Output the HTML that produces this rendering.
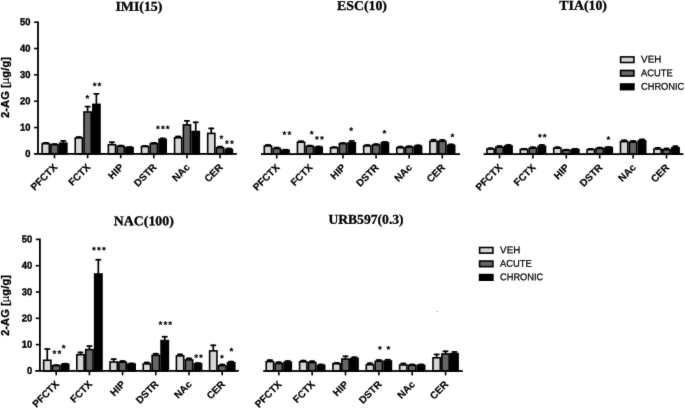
<!DOCTYPE html>
<html><head><meta charset="utf-8"><title>2-AG</title>
<style>
html,body{margin:0;padding:0;background:#fff;}
svg{display:block}
.ti{font-family:"Liberation Serif",serif;font-weight:bold;font-size:13.5px;fill:#000;stroke:#000;stroke-width:.3px}
.yt{font-family:"Liberation Sans",sans-serif;font-weight:bold;font-size:10.2px;fill:#000;stroke:#000;stroke-width:.4px}
.xl{font-family:"Liberation Sans",sans-serif;font-weight:bold;font-size:10px;fill:#000;stroke:#000;stroke-width:.2px}
.yl{font-family:"Liberation Sans",sans-serif;font-weight:bold;font-size:11.3px;fill:#000;stroke:#000;stroke-width:.3px}
.lg{font-family:"Liberation Sans",sans-serif;font-size:9.8px;fill:#000;stroke:#000;stroke-width:.25px}
.st{font-family:"Liberation Sans",sans-serif;font-weight:bold;font-size:9.9px;fill:#000;stroke:#000;stroke-width:.12px;letter-spacing:1.05px}
</style></head><body>
<svg width="685" height="408" viewBox="0 0 685 408">
<defs><filter id="sf" x="0" y="0" width="685" height="408" filterUnits="userSpaceOnUse" color-interpolation-filters="sRGB"><feConvolveMatrix order="3" kernelMatrix="1 4 1 4 46 4 1 4 1" divisor="66" edgeMode="duplicate" preserveAlpha="false"/></filter></defs>
<g filter="url(#sf)">
<rect width="685" height="408" fill="#fff"/>
<rect x="44.87" y="142.00" width="1.7" height="1.40" fill="#000"/>
<rect x="42.82" y="142.00" width="5.8" height="1.7" fill="#000"/>
<rect x="42.13" y="143.70" width="7.18" height="10.20" fill="#d6d6d6" stroke="#000" stroke-width="1.6"/>
<rect x="53.65" y="143.20" width="1.7" height="1.20" fill="#000"/>
<rect x="51.60" y="143.20" width="5.8" height="1.7" fill="#000"/>
<rect x="50.91" y="144.70" width="7.18" height="9.20" fill="#666666" stroke="#000" stroke-width="1.6"/>
<rect x="62.43" y="140.10" width="1.7" height="2.80" fill="#000"/>
<rect x="60.38" y="140.10" width="5.8" height="1.7" fill="#000"/>
<rect x="59.69" y="143.20" width="7.18" height="10.70" fill="#000000" stroke="#000" stroke-width="1.6"/>
<rect x="77.98" y="136.20" width="1.7" height="1.50" fill="#000"/>
<rect x="75.93" y="136.20" width="5.8" height="1.7" fill="#000"/>
<rect x="75.24" y="138.00" width="7.18" height="15.90" fill="#d6d6d6" stroke="#000" stroke-width="1.6"/>
<rect x="86.76" y="105.80" width="1.7" height="5.90" fill="#000"/>
<rect x="84.71" y="105.80" width="5.8" height="1.7" fill="#000"/>
<rect x="84.02" y="112.00" width="7.18" height="41.90" fill="#666666" stroke="#000" stroke-width="1.6"/>
<rect x="95.54" y="93.00" width="1.7" height="11.10" fill="#000"/>
<rect x="93.49" y="93.00" width="5.8" height="1.7" fill="#000"/>
<rect x="92.80" y="104.40" width="7.18" height="49.50" fill="#000000" stroke="#000" stroke-width="1.6"/>
<rect x="111.09" y="141.40" width="1.7" height="3.00" fill="#000"/>
<rect x="109.04" y="141.40" width="5.8" height="1.7" fill="#000"/>
<rect x="108.35" y="144.70" width="7.18" height="9.20" fill="#d6d6d6" stroke="#000" stroke-width="1.6"/>
<rect x="119.87" y="144.80" width="1.7" height="1.20" fill="#000"/>
<rect x="117.82" y="144.80" width="5.8" height="1.7" fill="#000"/>
<rect x="117.13" y="146.30" width="7.18" height="7.60" fill="#666666" stroke="#000" stroke-width="1.6"/>
<rect x="128.65" y="146.20" width="1.7" height="1.10" fill="#000"/>
<rect x="126.60" y="146.20" width="5.8" height="1.7" fill="#000"/>
<rect x="125.91" y="147.60" width="7.18" height="6.30" fill="#000000" stroke="#000" stroke-width="1.6"/>
<rect x="144.20" y="145.10" width="1.7" height="1.20" fill="#000"/>
<rect x="142.15" y="145.10" width="5.8" height="1.7" fill="#000"/>
<rect x="141.46" y="146.60" width="7.18" height="7.30" fill="#d6d6d6" stroke="#000" stroke-width="1.6"/>
<rect x="152.98" y="142.00" width="1.7" height="1.40" fill="#000"/>
<rect x="150.93" y="142.00" width="5.8" height="1.7" fill="#000"/>
<rect x="150.24" y="143.70" width="7.18" height="10.20" fill="#666666" stroke="#000" stroke-width="1.6"/>
<rect x="161.76" y="137.60" width="1.7" height="1.50" fill="#000"/>
<rect x="159.71" y="137.60" width="5.8" height="1.7" fill="#000"/>
<rect x="159.02" y="139.40" width="7.18" height="14.50" fill="#000000" stroke="#000" stroke-width="1.6"/>
<rect x="177.31" y="135.70" width="1.7" height="1.80" fill="#000"/>
<rect x="175.26" y="135.70" width="5.8" height="1.7" fill="#000"/>
<rect x="174.57" y="137.80" width="7.18" height="16.10" fill="#d6d6d6" stroke="#000" stroke-width="1.6"/>
<rect x="186.09" y="120.00" width="1.7" height="4.60" fill="#000"/>
<rect x="184.04" y="120.00" width="5.8" height="1.7" fill="#000"/>
<rect x="183.35" y="124.90" width="7.18" height="29.00" fill="#666666" stroke="#000" stroke-width="1.6"/>
<rect x="194.87" y="121.50" width="1.7" height="9.70" fill="#000"/>
<rect x="192.82" y="121.50" width="5.8" height="1.7" fill="#000"/>
<rect x="192.13" y="131.50" width="7.18" height="22.40" fill="#000000" stroke="#000" stroke-width="1.6"/>
<rect x="210.42" y="127.60" width="1.7" height="5.50" fill="#000"/>
<rect x="208.37" y="127.60" width="5.8" height="1.7" fill="#000"/>
<rect x="207.68" y="133.40" width="7.18" height="20.50" fill="#d6d6d6" stroke="#000" stroke-width="1.6"/>
<rect x="219.20" y="145.80" width="1.7" height="1.70" fill="#000"/>
<rect x="217.15" y="145.80" width="5.8" height="1.7" fill="#000"/>
<rect x="216.46" y="147.80" width="7.18" height="6.10" fill="#666666" stroke="#000" stroke-width="1.6"/>
<rect x="227.98" y="147.70" width="1.7" height="1.50" fill="#000"/>
<rect x="225.93" y="147.70" width="5.8" height="1.7" fill="#000"/>
<rect x="225.24" y="149.50" width="7.18" height="4.40" fill="#000000" stroke="#000" stroke-width="1.6"/>
<rect x="34.10" y="153.00" width="202.70" height="1.8" fill="#000"/>
<rect x="53.70" y="153.90" width="1.6" height="4.40" fill="#000"/>
<rect x="86.81" y="153.90" width="1.6" height="4.40" fill="#000"/>
<rect x="119.92" y="153.90" width="1.6" height="4.40" fill="#000"/>
<rect x="153.03" y="153.90" width="1.6" height="4.40" fill="#000"/>
<rect x="186.14" y="153.90" width="1.6" height="4.40" fill="#000"/>
<rect x="219.25" y="153.90" width="1.6" height="4.40" fill="#000"/>
<text class="xl" text-anchor="end" transform="translate(57.90,167.90) rotate(-45)">PFCTX</text>
<text class="xl" text-anchor="end" transform="translate(91.01,167.90) rotate(-45)">FCTX</text>
<text class="xl" text-anchor="end" transform="translate(124.12,167.90) rotate(-45)">HIP</text>
<text class="xl" text-anchor="end" transform="translate(157.23,167.90) rotate(-45)">DSTR</text>
<text class="xl" text-anchor="end" transform="translate(190.34,167.90) rotate(-45)">NAc</text>
<text class="xl" text-anchor="end" transform="translate(223.45,167.90) rotate(-45)">CER</text>
<rect x="37.10" y="21.40" width="1.8" height="132.50" fill="#000"/>
<text class="yt" text-anchor="end" transform="translate(30.40,157.05) rotate(0.03) scale(0.92,1)">0</text>
<rect x="34.10" y="126.76" width="3.90" height="1.6" fill="#000"/>
<text class="yt" text-anchor="end" transform="translate(30.40,130.71) rotate(0.03) scale(0.92,1)">10</text>
<rect x="34.10" y="100.42" width="3.90" height="1.6" fill="#000"/>
<text class="yt" text-anchor="end" transform="translate(30.40,104.37) rotate(0.03) scale(0.92,1)">20</text>
<rect x="34.10" y="74.08" width="3.90" height="1.6" fill="#000"/>
<text class="yt" text-anchor="end" transform="translate(30.40,78.03) rotate(0.03) scale(0.92,1)">30</text>
<rect x="34.10" y="47.74" width="3.90" height="1.6" fill="#000"/>
<text class="yt" text-anchor="end" transform="translate(30.40,51.69) rotate(0.03) scale(0.92,1)">40</text>
<rect x="34.10" y="21.40" width="3.90" height="1.6" fill="#000"/>
<text class="yt" text-anchor="end" transform="translate(30.40,25.35) rotate(0.03) scale(0.92,1)">50</text>
<rect x="267.05" y="144.10" width="1.7" height="1.60" fill="#000"/>
<rect x="265.00" y="144.10" width="5.8" height="1.7" fill="#000"/>
<rect x="264.30" y="146.00" width="7.20" height="8.10" fill="#d6d6d6" stroke="#000" stroke-width="1.6"/>
<rect x="275.85" y="146.80" width="1.7" height="1.40" fill="#000"/>
<rect x="273.80" y="146.80" width="5.8" height="1.7" fill="#000"/>
<rect x="273.10" y="148.50" width="7.20" height="5.60" fill="#666666" stroke="#000" stroke-width="1.6"/>
<rect x="284.65" y="148.90" width="1.7" height="1.10" fill="#000"/>
<rect x="282.60" y="148.90" width="5.8" height="1.7" fill="#000"/>
<rect x="281.90" y="150.30" width="7.20" height="3.80" fill="#000000" stroke="#000" stroke-width="1.6"/>
<rect x="300.17" y="140.40" width="1.7" height="1.50" fill="#000"/>
<rect x="298.12" y="140.40" width="5.8" height="1.7" fill="#000"/>
<rect x="297.42" y="142.20" width="7.20" height="11.90" fill="#d6d6d6" stroke="#000" stroke-width="1.6"/>
<rect x="308.97" y="144.80" width="1.7" height="1.20" fill="#000"/>
<rect x="306.92" y="144.80" width="5.8" height="1.7" fill="#000"/>
<rect x="306.22" y="146.30" width="7.20" height="7.80" fill="#666666" stroke="#000" stroke-width="1.6"/>
<rect x="317.77" y="145.70" width="1.7" height="1.20" fill="#000"/>
<rect x="315.72" y="145.70" width="5.8" height="1.7" fill="#000"/>
<rect x="315.02" y="147.20" width="7.20" height="6.90" fill="#000000" stroke="#000" stroke-width="1.6"/>
<rect x="333.29" y="146.30" width="1.7" height="1.20" fill="#000"/>
<rect x="331.24" y="146.30" width="5.8" height="1.7" fill="#000"/>
<rect x="330.54" y="147.80" width="7.20" height="6.30" fill="#d6d6d6" stroke="#000" stroke-width="1.6"/>
<rect x="342.09" y="142.20" width="1.7" height="1.20" fill="#000"/>
<rect x="340.04" y="142.20" width="5.8" height="1.7" fill="#000"/>
<rect x="339.34" y="143.70" width="7.20" height="10.40" fill="#666666" stroke="#000" stroke-width="1.6"/>
<rect x="350.89" y="140.10" width="1.7" height="2.40" fill="#000"/>
<rect x="348.84" y="140.10" width="5.8" height="1.7" fill="#000"/>
<rect x="348.14" y="142.80" width="7.20" height="11.30" fill="#000000" stroke="#000" stroke-width="1.6"/>
<rect x="366.41" y="144.20" width="1.7" height="1.50" fill="#000"/>
<rect x="364.36" y="144.20" width="5.8" height="1.7" fill="#000"/>
<rect x="363.66" y="146.00" width="7.20" height="8.10" fill="#d6d6d6" stroke="#000" stroke-width="1.6"/>
<rect x="375.21" y="143.30" width="1.7" height="1.40" fill="#000"/>
<rect x="373.16" y="143.30" width="5.8" height="1.7" fill="#000"/>
<rect x="372.46" y="145.00" width="7.20" height="9.10" fill="#666666" stroke="#000" stroke-width="1.6"/>
<rect x="384.01" y="141.10" width="1.7" height="1.40" fill="#000"/>
<rect x="381.96" y="141.10" width="5.8" height="1.7" fill="#000"/>
<rect x="381.26" y="142.80" width="7.20" height="11.30" fill="#000000" stroke="#000" stroke-width="1.6"/>
<rect x="399.53" y="145.80" width="1.7" height="1.70" fill="#000"/>
<rect x="397.48" y="145.80" width="5.8" height="1.7" fill="#000"/>
<rect x="396.78" y="147.80" width="7.20" height="6.30" fill="#d6d6d6" stroke="#000" stroke-width="1.6"/>
<rect x="408.33" y="145.40" width="1.7" height="1.50" fill="#000"/>
<rect x="406.28" y="145.40" width="5.8" height="1.7" fill="#000"/>
<rect x="405.58" y="147.20" width="7.20" height="6.90" fill="#666666" stroke="#000" stroke-width="1.6"/>
<rect x="417.13" y="144.50" width="1.7" height="1.40" fill="#000"/>
<rect x="415.08" y="144.50" width="5.8" height="1.7" fill="#000"/>
<rect x="414.38" y="146.20" width="7.20" height="7.90" fill="#000000" stroke="#000" stroke-width="1.6"/>
<rect x="432.65" y="138.90" width="1.7" height="2.10" fill="#000"/>
<rect x="430.60" y="138.90" width="5.8" height="1.7" fill="#000"/>
<rect x="429.90" y="141.30" width="7.20" height="12.80" fill="#d6d6d6" stroke="#000" stroke-width="1.6"/>
<rect x="441.45" y="139.10" width="1.7" height="1.90" fill="#000"/>
<rect x="439.40" y="139.10" width="5.8" height="1.7" fill="#000"/>
<rect x="438.70" y="141.30" width="7.20" height="12.80" fill="#666666" stroke="#000" stroke-width="1.6"/>
<rect x="450.25" y="143.60" width="1.7" height="1.40" fill="#000"/>
<rect x="448.20" y="143.60" width="5.8" height="1.7" fill="#000"/>
<rect x="447.50" y="145.30" width="7.20" height="8.80" fill="#000000" stroke="#000" stroke-width="1.6"/>
<rect x="261.00" y="153.20" width="199.00" height="1.8" fill="#000"/>
<rect x="275.90" y="154.10" width="1.6" height="4.40" fill="#000"/>
<rect x="309.02" y="154.10" width="1.6" height="4.40" fill="#000"/>
<rect x="342.14" y="154.10" width="1.6" height="4.40" fill="#000"/>
<rect x="375.26" y="154.10" width="1.6" height="4.40" fill="#000"/>
<rect x="408.38" y="154.10" width="1.6" height="4.40" fill="#000"/>
<rect x="441.50" y="154.10" width="1.6" height="4.40" fill="#000"/>
<text class="xl" text-anchor="end" transform="translate(280.10,168.10) rotate(-45)">PFCTX</text>
<text class="xl" text-anchor="end" transform="translate(313.22,168.10) rotate(-45)">FCTX</text>
<text class="xl" text-anchor="end" transform="translate(346.34,168.10) rotate(-45)">HIP</text>
<text class="xl" text-anchor="end" transform="translate(379.46,168.10) rotate(-45)">DSTR</text>
<text class="xl" text-anchor="end" transform="translate(412.58,168.10) rotate(-45)">NAc</text>
<text class="xl" text-anchor="end" transform="translate(445.70,168.10) rotate(-45)">CER</text>
<rect x="489.72" y="147.40" width="1.7" height="1.40" fill="#000"/>
<rect x="487.67" y="147.40" width="5.8" height="1.7" fill="#000"/>
<rect x="486.91" y="149.10" width="7.33" height="5.00" fill="#d6d6d6" stroke="#000" stroke-width="1.6"/>
<rect x="498.65" y="145.20" width="1.7" height="1.70" fill="#000"/>
<rect x="496.60" y="145.20" width="5.8" height="1.7" fill="#000"/>
<rect x="495.84" y="147.20" width="7.33" height="6.90" fill="#666666" stroke="#000" stroke-width="1.6"/>
<rect x="507.58" y="144.10" width="1.7" height="1.60" fill="#000"/>
<rect x="505.53" y="144.10" width="5.8" height="1.7" fill="#000"/>
<rect x="504.77" y="146.00" width="7.33" height="8.10" fill="#000000" stroke="#000" stroke-width="1.6"/>
<rect x="523.12" y="148.00" width="1.7" height="1.20" fill="#000"/>
<rect x="521.07" y="148.00" width="5.8" height="1.7" fill="#000"/>
<rect x="520.30" y="149.50" width="7.33" height="4.60" fill="#d6d6d6" stroke="#000" stroke-width="1.6"/>
<rect x="532.05" y="146.40" width="1.7" height="1.50" fill="#000"/>
<rect x="530.00" y="146.40" width="5.8" height="1.7" fill="#000"/>
<rect x="529.23" y="148.20" width="7.33" height="5.90" fill="#666666" stroke="#000" stroke-width="1.6"/>
<rect x="540.98" y="144.10" width="1.7" height="1.80" fill="#000"/>
<rect x="538.93" y="144.10" width="5.8" height="1.7" fill="#000"/>
<rect x="538.16" y="146.20" width="7.33" height="7.90" fill="#000000" stroke="#000" stroke-width="1.6"/>
<rect x="556.52" y="146.40" width="1.7" height="1.50" fill="#000"/>
<rect x="554.47" y="146.40" width="5.8" height="1.7" fill="#000"/>
<rect x="553.70" y="148.20" width="7.33" height="5.90" fill="#d6d6d6" stroke="#000" stroke-width="1.6"/>
<rect x="565.45" y="148.90" width="1.7" height="1.10" fill="#000"/>
<rect x="563.40" y="148.90" width="5.8" height="1.7" fill="#000"/>
<rect x="562.63" y="150.30" width="7.33" height="3.80" fill="#666666" stroke="#000" stroke-width="1.6"/>
<rect x="574.38" y="148.00" width="1.7" height="1.20" fill="#000"/>
<rect x="572.33" y="148.00" width="5.8" height="1.7" fill="#000"/>
<rect x="571.56" y="149.50" width="7.33" height="4.60" fill="#000000" stroke="#000" stroke-width="1.6"/>
<rect x="589.92" y="148.00" width="1.7" height="1.40" fill="#000"/>
<rect x="587.87" y="148.00" width="5.8" height="1.7" fill="#000"/>
<rect x="587.11" y="149.70" width="7.33" height="4.40" fill="#d6d6d6" stroke="#000" stroke-width="1.6"/>
<rect x="598.85" y="146.80" width="1.7" height="1.40" fill="#000"/>
<rect x="596.80" y="146.80" width="5.8" height="1.7" fill="#000"/>
<rect x="596.03" y="148.50" width="7.33" height="5.60" fill="#666666" stroke="#000" stroke-width="1.6"/>
<rect x="607.78" y="146.20" width="1.7" height="1.10" fill="#000"/>
<rect x="605.73" y="146.20" width="5.8" height="1.7" fill="#000"/>
<rect x="604.97" y="147.60" width="7.33" height="6.50" fill="#000000" stroke="#000" stroke-width="1.6"/>
<rect x="623.32" y="139.50" width="1.7" height="1.80" fill="#000"/>
<rect x="621.27" y="139.50" width="5.8" height="1.7" fill="#000"/>
<rect x="620.50" y="141.60" width="7.33" height="12.50" fill="#d6d6d6" stroke="#000" stroke-width="1.6"/>
<rect x="632.25" y="140.10" width="1.7" height="1.80" fill="#000"/>
<rect x="630.20" y="140.10" width="5.8" height="1.7" fill="#000"/>
<rect x="629.43" y="142.20" width="7.33" height="11.90" fill="#666666" stroke="#000" stroke-width="1.6"/>
<rect x="641.18" y="138.60" width="1.7" height="1.80" fill="#000"/>
<rect x="639.13" y="138.60" width="5.8" height="1.7" fill="#000"/>
<rect x="638.37" y="140.70" width="7.33" height="13.40" fill="#000000" stroke="#000" stroke-width="1.6"/>
<rect x="656.72" y="147.00" width="1.7" height="1.80" fill="#000"/>
<rect x="654.67" y="147.00" width="5.8" height="1.7" fill="#000"/>
<rect x="653.90" y="149.10" width="7.33" height="5.00" fill="#d6d6d6" stroke="#000" stroke-width="1.6"/>
<rect x="665.65" y="147.70" width="1.7" height="1.70" fill="#000"/>
<rect x="663.60" y="147.70" width="5.8" height="1.7" fill="#000"/>
<rect x="662.83" y="149.70" width="7.33" height="4.40" fill="#666666" stroke="#000" stroke-width="1.6"/>
<rect x="674.58" y="145.40" width="1.7" height="2.10" fill="#000"/>
<rect x="672.53" y="145.40" width="5.8" height="1.7" fill="#000"/>
<rect x="671.76" y="147.80" width="7.33" height="6.30" fill="#000000" stroke="#000" stroke-width="1.6"/>
<rect x="483.60" y="153.20" width="199.80" height="1.8" fill="#000"/>
<rect x="498.70" y="154.10" width="1.6" height="4.40" fill="#000"/>
<rect x="532.10" y="154.10" width="1.6" height="4.40" fill="#000"/>
<rect x="565.50" y="154.10" width="1.6" height="4.40" fill="#000"/>
<rect x="598.90" y="154.10" width="1.6" height="4.40" fill="#000"/>
<rect x="632.30" y="154.10" width="1.6" height="4.40" fill="#000"/>
<rect x="665.70" y="154.10" width="1.6" height="4.40" fill="#000"/>
<text class="xl" text-anchor="end" transform="translate(502.90,168.10) rotate(-45)">PFCTX</text>
<text class="xl" text-anchor="end" transform="translate(536.30,168.10) rotate(-45)">FCTX</text>
<text class="xl" text-anchor="end" transform="translate(569.70,168.10) rotate(-45)">HIP</text>
<text class="xl" text-anchor="end" transform="translate(603.10,168.10) rotate(-45)">DSTR</text>
<text class="xl" text-anchor="end" transform="translate(636.50,168.10) rotate(-45)">NAc</text>
<text class="xl" text-anchor="end" transform="translate(669.90,168.10) rotate(-45)">CER</text>
<rect x="46.43" y="348.20" width="1.7" height="11.80" fill="#000"/>
<rect x="44.38" y="348.20" width="5.8" height="1.7" fill="#000"/>
<rect x="43.62" y="360.30" width="7.32" height="10.60" fill="#d6d6d6" stroke="#000" stroke-width="1.6"/>
<rect x="55.35" y="364.30" width="1.7" height="1.10" fill="#000"/>
<rect x="53.30" y="364.30" width="5.8" height="1.7" fill="#000"/>
<rect x="52.54" y="365.70" width="7.32" height="5.20" fill="#666666" stroke="#000" stroke-width="1.6"/>
<rect x="64.27" y="362.90" width="1.7" height="1.20" fill="#000"/>
<rect x="62.22" y="362.90" width="5.8" height="1.7" fill="#000"/>
<rect x="61.46" y="364.40" width="7.32" height="6.50" fill="#000000" stroke="#000" stroke-width="1.6"/>
<rect x="79.63" y="351.60" width="1.7" height="2.80" fill="#000"/>
<rect x="77.58" y="351.60" width="5.8" height="1.7" fill="#000"/>
<rect x="76.82" y="354.70" width="7.32" height="16.20" fill="#d6d6d6" stroke="#000" stroke-width="1.6"/>
<rect x="88.55" y="345.30" width="1.7" height="4.00" fill="#000"/>
<rect x="86.50" y="345.30" width="5.8" height="1.7" fill="#000"/>
<rect x="85.74" y="349.60" width="7.32" height="21.30" fill="#666666" stroke="#000" stroke-width="1.6"/>
<rect x="97.47" y="258.90" width="1.7" height="14.80" fill="#000"/>
<rect x="95.42" y="258.90" width="5.8" height="1.7" fill="#000"/>
<rect x="94.66" y="274.00" width="7.32" height="96.90" fill="#000000" stroke="#000" stroke-width="1.6"/>
<rect x="112.83" y="358.30" width="1.7" height="3.40" fill="#000"/>
<rect x="110.78" y="358.30" width="5.8" height="1.7" fill="#000"/>
<rect x="110.02" y="362.00" width="7.32" height="8.90" fill="#d6d6d6" stroke="#000" stroke-width="1.6"/>
<rect x="121.75" y="360.20" width="1.7" height="1.70" fill="#000"/>
<rect x="119.70" y="360.20" width="5.8" height="1.7" fill="#000"/>
<rect x="118.94" y="362.20" width="7.32" height="8.70" fill="#666666" stroke="#000" stroke-width="1.6"/>
<rect x="130.67" y="362.60" width="1.7" height="1.20" fill="#000"/>
<rect x="128.62" y="362.60" width="5.8" height="1.7" fill="#000"/>
<rect x="127.86" y="364.10" width="7.32" height="6.80" fill="#000000" stroke="#000" stroke-width="1.6"/>
<rect x="146.03" y="361.70" width="1.7" height="1.90" fill="#000"/>
<rect x="143.98" y="361.70" width="5.8" height="1.7" fill="#000"/>
<rect x="143.22" y="363.90" width="7.32" height="7.00" fill="#d6d6d6" stroke="#000" stroke-width="1.6"/>
<rect x="154.95" y="352.90" width="1.7" height="2.10" fill="#000"/>
<rect x="152.90" y="352.90" width="5.8" height="1.7" fill="#000"/>
<rect x="152.14" y="355.30" width="7.32" height="15.60" fill="#666666" stroke="#000" stroke-width="1.6"/>
<rect x="163.87" y="335.90" width="1.7" height="4.40" fill="#000"/>
<rect x="161.82" y="335.90" width="5.8" height="1.7" fill="#000"/>
<rect x="161.06" y="340.60" width="7.32" height="30.30" fill="#000000" stroke="#000" stroke-width="1.6"/>
<rect x="179.23" y="353.60" width="1.7" height="2.00" fill="#000"/>
<rect x="177.18" y="353.60" width="5.8" height="1.7" fill="#000"/>
<rect x="176.42" y="355.90" width="7.32" height="15.00" fill="#d6d6d6" stroke="#000" stroke-width="1.6"/>
<rect x="188.15" y="357.60" width="1.7" height="2.00" fill="#000"/>
<rect x="186.10" y="357.60" width="5.8" height="1.7" fill="#000"/>
<rect x="185.34" y="359.90" width="7.32" height="11.00" fill="#666666" stroke="#000" stroke-width="1.6"/>
<rect x="197.07" y="362.20" width="1.7" height="1.30" fill="#000"/>
<rect x="195.02" y="362.20" width="5.8" height="1.7" fill="#000"/>
<rect x="194.26" y="363.80" width="7.32" height="7.10" fill="#000000" stroke="#000" stroke-width="1.6"/>
<rect x="212.43" y="344.50" width="1.7" height="6.10" fill="#000"/>
<rect x="210.38" y="344.50" width="5.8" height="1.7" fill="#000"/>
<rect x="209.62" y="350.90" width="7.32" height="20.00" fill="#d6d6d6" stroke="#000" stroke-width="1.6"/>
<rect x="221.35" y="363.70" width="1.7" height="1.70" fill="#000"/>
<rect x="219.30" y="363.70" width="5.8" height="1.7" fill="#000"/>
<rect x="218.54" y="365.70" width="7.32" height="5.20" fill="#666666" stroke="#000" stroke-width="1.6"/>
<rect x="230.27" y="360.80" width="1.7" height="1.70" fill="#000"/>
<rect x="228.22" y="360.80" width="5.8" height="1.7" fill="#000"/>
<rect x="227.46" y="362.80" width="7.32" height="8.10" fill="#000000" stroke="#000" stroke-width="1.6"/>
<rect x="35.30" y="370.00" width="203.50" height="1.8" fill="#000"/>
<rect x="55.40" y="370.90" width="1.6" height="4.40" fill="#000"/>
<rect x="88.60" y="370.90" width="1.6" height="4.40" fill="#000"/>
<rect x="121.80" y="370.90" width="1.6" height="4.40" fill="#000"/>
<rect x="155.00" y="370.90" width="1.6" height="4.40" fill="#000"/>
<rect x="188.20" y="370.90" width="1.6" height="4.40" fill="#000"/>
<rect x="221.40" y="370.90" width="1.6" height="4.40" fill="#000"/>
<text class="xl" text-anchor="end" transform="translate(59.60,384.90) rotate(-45)">PFCTX</text>
<text class="xl" text-anchor="end" transform="translate(92.80,384.90) rotate(-45)">FCTX</text>
<text class="xl" text-anchor="end" transform="translate(126.00,384.90) rotate(-45)">HIP</text>
<text class="xl" text-anchor="end" transform="translate(159.20,384.90) rotate(-45)">DSTR</text>
<text class="xl" text-anchor="end" transform="translate(192.40,384.90) rotate(-45)">NAc</text>
<text class="xl" text-anchor="end" transform="translate(225.60,384.90) rotate(-45)">CER</text>
<rect x="39.00" y="238.60" width="1.8" height="132.30" fill="#000"/>
<text class="yt" text-anchor="end" transform="translate(32.30,374.05) rotate(0.03) scale(0.92,1)">0</text>
<rect x="35.80" y="343.80" width="4.10" height="1.6" fill="#000"/>
<text class="yt" text-anchor="end" transform="translate(32.30,347.75) rotate(0.03) scale(0.92,1)">10</text>
<rect x="35.80" y="317.50" width="4.10" height="1.6" fill="#000"/>
<text class="yt" text-anchor="end" transform="translate(32.30,321.45) rotate(0.03) scale(0.92,1)">20</text>
<rect x="35.80" y="291.20" width="4.10" height="1.6" fill="#000"/>
<text class="yt" text-anchor="end" transform="translate(32.30,295.15) rotate(0.03) scale(0.92,1)">30</text>
<rect x="35.80" y="264.90" width="4.10" height="1.6" fill="#000"/>
<text class="yt" text-anchor="end" transform="translate(32.30,268.85) rotate(0.03) scale(0.92,1)">40</text>
<rect x="35.80" y="238.60" width="4.10" height="1.6" fill="#000"/>
<text class="yt" text-anchor="end" transform="translate(32.30,242.55) rotate(0.03) scale(0.92,1)">50</text>
<rect x="269.05" y="359.30" width="1.7" height="2.00" fill="#000"/>
<rect x="267.00" y="359.30" width="5.8" height="1.7" fill="#000"/>
<rect x="266.25" y="361.60" width="7.30" height="9.40" fill="#d6d6d6" stroke="#000" stroke-width="1.6"/>
<rect x="277.95" y="361.40" width="1.7" height="1.80" fill="#000"/>
<rect x="275.90" y="361.40" width="5.8" height="1.7" fill="#000"/>
<rect x="275.15" y="363.50" width="7.30" height="7.50" fill="#666666" stroke="#000" stroke-width="1.6"/>
<rect x="286.85" y="360.20" width="1.7" height="1.70" fill="#000"/>
<rect x="284.80" y="360.20" width="5.8" height="1.7" fill="#000"/>
<rect x="284.05" y="362.20" width="7.30" height="8.80" fill="#000000" stroke="#000" stroke-width="1.6"/>
<rect x="302.40" y="359.80" width="1.7" height="1.70" fill="#000"/>
<rect x="300.35" y="359.80" width="5.8" height="1.7" fill="#000"/>
<rect x="299.60" y="361.80" width="7.30" height="9.20" fill="#d6d6d6" stroke="#000" stroke-width="1.6"/>
<rect x="311.30" y="360.40" width="1.7" height="1.80" fill="#000"/>
<rect x="309.25" y="360.40" width="5.8" height="1.7" fill="#000"/>
<rect x="308.50" y="362.50" width="7.30" height="8.50" fill="#666666" stroke="#000" stroke-width="1.6"/>
<rect x="320.20" y="363.70" width="1.7" height="1.30" fill="#000"/>
<rect x="318.15" y="363.70" width="5.8" height="1.7" fill="#000"/>
<rect x="317.40" y="365.30" width="7.30" height="5.70" fill="#000000" stroke="#000" stroke-width="1.6"/>
<rect x="335.75" y="362.00" width="1.7" height="1.50" fill="#000"/>
<rect x="333.70" y="362.00" width="5.8" height="1.7" fill="#000"/>
<rect x="332.95" y="363.80" width="7.30" height="7.20" fill="#d6d6d6" stroke="#000" stroke-width="1.6"/>
<rect x="344.65" y="355.50" width="1.7" height="3.30" fill="#000"/>
<rect x="342.60" y="355.50" width="5.8" height="1.7" fill="#000"/>
<rect x="341.85" y="359.10" width="7.30" height="11.90" fill="#666666" stroke="#000" stroke-width="1.6"/>
<rect x="353.55" y="356.40" width="1.7" height="1.70" fill="#000"/>
<rect x="351.50" y="356.40" width="5.8" height="1.7" fill="#000"/>
<rect x="350.75" y="358.40" width="7.30" height="12.60" fill="#000000" stroke="#000" stroke-width="1.6"/>
<rect x="369.10" y="362.40" width="1.7" height="2.00" fill="#000"/>
<rect x="367.05" y="362.40" width="5.8" height="1.7" fill="#000"/>
<rect x="366.30" y="364.70" width="7.30" height="6.30" fill="#d6d6d6" stroke="#000" stroke-width="1.6"/>
<rect x="378.00" y="359.20" width="1.7" height="1.80" fill="#000"/>
<rect x="375.95" y="359.20" width="5.8" height="1.7" fill="#000"/>
<rect x="375.20" y="361.30" width="7.30" height="9.70" fill="#666666" stroke="#000" stroke-width="1.6"/>
<rect x="386.90" y="358.90" width="1.7" height="1.80" fill="#000"/>
<rect x="384.85" y="358.90" width="5.8" height="1.7" fill="#000"/>
<rect x="384.10" y="361.00" width="7.30" height="10.00" fill="#000000" stroke="#000" stroke-width="1.6"/>
<rect x="402.45" y="362.70" width="1.7" height="2.00" fill="#000"/>
<rect x="400.40" y="362.70" width="5.8" height="1.7" fill="#000"/>
<rect x="399.65" y="365.00" width="7.30" height="6.00" fill="#d6d6d6" stroke="#000" stroke-width="1.6"/>
<rect x="411.35" y="363.70" width="1.7" height="1.30" fill="#000"/>
<rect x="409.30" y="363.70" width="5.8" height="1.7" fill="#000"/>
<rect x="408.55" y="365.30" width="7.30" height="5.70" fill="#666666" stroke="#000" stroke-width="1.6"/>
<rect x="420.25" y="363.70" width="1.7" height="1.30" fill="#000"/>
<rect x="418.20" y="363.70" width="5.8" height="1.7" fill="#000"/>
<rect x="417.45" y="365.30" width="7.30" height="5.70" fill="#000000" stroke="#000" stroke-width="1.6"/>
<rect x="435.80" y="353.60" width="1.7" height="3.90" fill="#000"/>
<rect x="433.75" y="353.60" width="5.8" height="1.7" fill="#000"/>
<rect x="433.00" y="357.80" width="7.30" height="13.20" fill="#d6d6d6" stroke="#000" stroke-width="1.6"/>
<rect x="444.70" y="350.50" width="1.7" height="3.20" fill="#000"/>
<rect x="442.65" y="350.50" width="5.8" height="1.7" fill="#000"/>
<rect x="441.90" y="354.00" width="7.30" height="17.00" fill="#666666" stroke="#000" stroke-width="1.6"/>
<rect x="453.60" y="351.10" width="1.7" height="2.30" fill="#000"/>
<rect x="451.55" y="351.10" width="5.8" height="1.7" fill="#000"/>
<rect x="450.80" y="353.70" width="7.30" height="17.30" fill="#000000" stroke="#000" stroke-width="1.6"/>
<rect x="263.20" y="370.10" width="199.60" height="1.8" fill="#000"/>
<rect x="278.00" y="371.00" width="1.6" height="4.40" fill="#000"/>
<rect x="311.35" y="371.00" width="1.6" height="4.40" fill="#000"/>
<rect x="344.70" y="371.00" width="1.6" height="4.40" fill="#000"/>
<rect x="378.05" y="371.00" width="1.6" height="4.40" fill="#000"/>
<rect x="411.40" y="371.00" width="1.6" height="4.40" fill="#000"/>
<rect x="444.75" y="371.00" width="1.6" height="4.40" fill="#000"/>
<text class="xl" text-anchor="end" transform="translate(282.20,385.00) rotate(-45)">PFCTX</text>
<text class="xl" text-anchor="end" transform="translate(315.55,385.00) rotate(-45)">FCTX</text>
<text class="xl" text-anchor="end" transform="translate(348.90,385.00) rotate(-45)">HIP</text>
<text class="xl" text-anchor="end" transform="translate(382.25,385.00) rotate(-45)">DSTR</text>
<text class="xl" text-anchor="end" transform="translate(415.60,385.00) rotate(-45)">NAc</text>
<text class="xl" text-anchor="end" transform="translate(448.95,385.00) rotate(-45)">CER</text>
<text class="ti" text-anchor="middle" transform="translate(138.9,10.7) rotate(0.03) scale(1.025,1)">IMI(15)</text>
<text class="ti" text-anchor="middle" transform="translate(362.0,9.9) rotate(0.03) scale(1.025,1)">ESC(10)</text>
<text class="ti" text-anchor="middle" transform="translate(583.1,9.7) rotate(0.03) scale(1.025,1)">TIA(10)</text>
<text class="ti" text-anchor="middle" transform="translate(143.8,225.2) rotate(0.03) scale(1.025,1)">NAC(100)</text>
<text class="ti" text-anchor="middle" transform="translate(366.0,223.7) rotate(0.03) scale(1.01,1)">URB597(0.3)</text>
<text class="yl" text-anchor="middle" transform="translate(9.35,87.5) rotate(-90)">2-AG [<tspan font-weight="normal" stroke-width="0.1">µ</tspan>g/g]</text>
<text class="yl" text-anchor="middle" transform="translate(9.35,305.5) rotate(-90)">2-AG [<tspan font-weight="normal" stroke-width="0.1">µ</tspan>g/g]</text>
<rect x="620.60" y="56.90" width="13.3" height="5.6" fill="#d6d6d6" stroke="#000" stroke-width="1.6"/>
<text class="lg" transform="translate(641.10,62.60) rotate(0.03) scale(1.0,1)">VEH</text>
<rect x="620.60" y="70.45" width="13.3" height="5.6" fill="#666666" stroke="#000" stroke-width="1.6"/>
<text class="lg" transform="translate(641.10,76.15) rotate(0.03) scale(0.955,1)">ACUTE</text>
<rect x="620.60" y="84.00" width="13.3" height="5.6" fill="#000000" stroke="#000" stroke-width="1.6"/>
<text class="lg" transform="translate(641.10,89.70) rotate(0.03) scale(0.945,1)">CHRONIC</text>
<rect x="479.60" y="247.50" width="13.3" height="5.6" fill="#d6d6d6" stroke="#000" stroke-width="1.6"/>
<text class="lg" transform="translate(500.10,253.20) rotate(0.03) scale(1.0,1)">VEH</text>
<rect x="479.60" y="261.05" width="13.3" height="5.6" fill="#666666" stroke="#000" stroke-width="1.6"/>
<text class="lg" transform="translate(500.10,266.75) rotate(0.03) scale(0.955,1)">ACUTE</text>
<rect x="479.60" y="274.60" width="13.3" height="5.6" fill="#000000" stroke="#000" stroke-width="1.6"/>
<text class="lg" transform="translate(500.10,280.30) rotate(0.03) scale(0.945,1)">CHRONIC</text>
<text class="st" transform="translate(85.60,101.70) rotate(0.03)">*</text>
<text class="st" transform="translate(92.70,89.20) rotate(0.03)">**</text>
<text class="st" transform="translate(156.00,132.30) rotate(0.03)">***</text>
<text class="st" transform="translate(219.50,142.00) rotate(0.03)">*</text>
<text class="st" transform="translate(225.00,147.00) rotate(0.03)">**</text>
<text class="st" transform="translate(282.50,138.10) rotate(0.03)">**</text>
<text class="st" transform="translate(309.70,137.50) rotate(0.03)">*</text>
<text class="st" transform="translate(315.10,142.70) rotate(0.03)">**</text>
<text class="st" transform="translate(349.20,134.00) rotate(0.03)">*</text>
<text class="st" transform="translate(382.50,136.80) rotate(0.03)">*</text>
<text class="st" transform="translate(450.40,140.20) rotate(0.03)">*</text>
<text class="st" transform="translate(537.90,140.60) rotate(0.03)">**</text>
<text class="st" transform="translate(606.40,143.10) rotate(0.03)">*</text>
<text class="st" transform="translate(52.50,357.10) rotate(0.03)">**</text>
<text class="st" transform="translate(61.80,351.40) rotate(0.03)">*</text>
<text class="st" transform="translate(92.10,253.60) rotate(0.03)">***</text>
<text class="st" transform="translate(158.50,328.00) rotate(0.03)">***</text>
<text class="st" transform="translate(194.20,360.90) rotate(0.03)">**</text>
<text class="st" transform="translate(220.10,361.50) rotate(0.03)">*</text>
<text class="st" transform="translate(229.40,354.60) rotate(0.03)">*</text>
<text class="st" transform="translate(377.90,352.70) rotate(0.03)">*</text>
<text class="st" transform="translate(386.40,352.70) rotate(0.03)">*</text>
<circle cx="437.3" cy="311.5" r="0.8" fill="#a8a8a8"/>
</g></svg></body></html>
